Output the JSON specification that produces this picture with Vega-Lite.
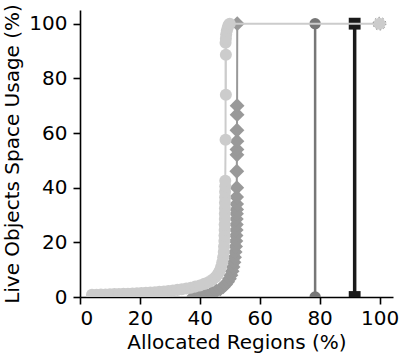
{
  "$schema": "https://vega.github.io/schema/vega-lite/v6.json",
  "width": 313,
  "height": 287,
  "autosize": {"type": "none"},
  "padding": {"left": 80, "top": 10, "right": 6, "bottom": 60},
  "config": {
    "view": {"stroke": null},
    "axis": {
      "grid": false,
      "domainColor": "#000000",
      "domainWidth": 1.6,
      "tickColor": "#000000",
      "tickWidth": 1.6,
      "tickSize": 7,
      "labelFont": "DejaVu Sans",
      "labelFontSize": 20,
      "labelColor": "#000000",
      "titleFont": "DejaVu Sans",
      "titleFontSize": 20,
      "titleFontWeight": "normal",
      "titleColor": "#000000"
    }
  },
  "datasets": {
    "light": [
      {"x": 4, "y": 0.8}, {"x": 5.5, "y": 0.85}, {"x": 7, "y": 0.9}, {"x": 8.5, "y": 0.95},
      {"x": 10, "y": 1.0}, {"x": 11.5, "y": 1.05}, {"x": 13, "y": 1.1}, {"x": 14.5, "y": 1.15},
      {"x": 16, "y": 1.2}, {"x": 17.5, "y": 1.3}, {"x": 19, "y": 1.35}, {"x": 20.5, "y": 1.45},
      {"x": 22, "y": 1.55}, {"x": 23.5, "y": 1.65}, {"x": 25, "y": 1.75}, {"x": 26.5, "y": 1.9},
      {"x": 28, "y": 2.0}, {"x": 29.5, "y": 2.2}, {"x": 31, "y": 2.4}, {"x": 32.5, "y": 2.6},
      {"x": 34, "y": 2.8}, {"x": 35.5, "y": 3.1}, {"x": 37, "y": 3.4}, {"x": 38.5, "y": 3.8},
      {"x": 40, "y": 4.2}, {"x": 41.5, "y": 4.8}, {"x": 43, "y": 5.5}, {"x": 44.2, "y": 6.3},
      {"x": 45.2, "y": 7.2}, {"x": 46, "y": 8.3}, {"x": 46.6, "y": 9.5}, {"x": 47.1, "y": 11},
      {"x": 47.5, "y": 12.7}, {"x": 47.8, "y": 14.5}, {"x": 48, "y": 16.5}, {"x": 48.1, "y": 18.5},
      {"x": 48.2, "y": 20.5}, {"x": 48.25, "y": 22.5}, {"x": 48.3, "y": 24.5}, {"x": 48.3, "y": 26.5},
      {"x": 48.35, "y": 28.5}, {"x": 48.35, "y": 30.5}, {"x": 48.4, "y": 32.5}, {"x": 48.4, "y": 34.5},
      {"x": 48.45, "y": 36.5}, {"x": 48.45, "y": 38.5}, {"x": 48.5, "y": 40.5}, {"x": 48.5, "y": 42.5},
      {"x": 48.6, "y": 57.5}, {"x": 48.7, "y": 74}, {"x": 48.7, "y": 88.6}, {"x": 48.6, "y": 93},
      {"x": 48.7, "y": 94.5}, {"x": 48.8, "y": 96}, {"x": 49, "y": 97.3}, {"x": 49.3, "y": 98.5},
      {"x": 49.6, "y": 99.5}, {"x": 50, "y": 100}, {"x": 100, "y": 100}
    ],
    "diamond": [
      {"x": 38, "y": 0.3}, {"x": 40, "y": 0.6}, {"x": 42, "y": 1.0}, {"x": 44, "y": 1.6},
      {"x": 45.5, "y": 2.2}, {"x": 46.8, "y": 2.9}, {"x": 47.8, "y": 3.7}, {"x": 48.6, "y": 4.6},
      {"x": 49.3, "y": 5.6}, {"x": 49.9, "y": 6.7}, {"x": 50.4, "y": 8}, {"x": 50.8, "y": 9.4},
      {"x": 51.1, "y": 11}, {"x": 51.4, "y": 12.7}, {"x": 51.6, "y": 14.5}, {"x": 51.8, "y": 16.5},
      {"x": 51.95, "y": 18.5}, {"x": 52.05, "y": 20.5}, {"x": 52.1, "y": 22.5}, {"x": 52.15, "y": 24.5},
      {"x": 52.2, "y": 26.5}, {"x": 52.2, "y": 28.5}, {"x": 52.25, "y": 30.5}, {"x": 52.3, "y": 32},
      {"x": 52.3, "y": 34}, {"x": 52.3, "y": 36.6}, {"x": 52.35, "y": 40}, {"x": 52.35, "y": 46},
      {"x": 52.4, "y": 52}, {"x": 52.4, "y": 54}, {"x": 52.4, "y": 57}, {"x": 52.4, "y": 61},
      {"x": 52.45, "y": 66.7}, {"x": 52.45, "y": 70}, {"x": 52.5, "y": 100}
    ],
    "circle": [{"x": 78.5, "y": 0}, {"x": 78.5, "y": 100}],
    "square": [{"x": 91.7, "y": 0}, {"x": 91.7, "y": 100}]
  },
  "encoding": {
    "x": {
      "field": "x", "type": "quantitative",
      "scale": {"domain": [0, 104.5], "nice": false, "zero": false},
      "axis": {"values": [0, 20, 40, 60, 80, 100], "title": "Allocated Regions (%)", "labelPadding": 4, "titlePadding": 4}
    },
    "y": {
      "field": "y", "type": "quantitative",
      "scale": {"domain": [0, 105], "nice": false, "zero": false},
      "axis": {"values": [0, 20, 40, 60, 80, 100], "title": "Live Objects Space Usage (%)", "labelPadding": 6, "titlePadding": 6}
    }
  },
  "layer": [
    {"data": {"name": "diamond"}, "mark": {"type": "line", "color": "#999999", "strokeWidth": 2, "clip": true}},
    {"data": {"name": "diamond"}, "mark": {"type": "point", "shape": "diamond", "filled": true, "color": "#999999", "size": 220, "opacity": 1, "clip": true}},
    {"data": {"name": "circle"}, "mark": {"type": "line", "color": "#777777", "strokeWidth": 2.5, "clip": true}},
    {"data": {"name": "circle"}, "mark": {"type": "point", "shape": "circle", "filled": true, "color": "#777777", "size": 130, "opacity": 1, "clip": true}},
    {"data": {"name": "square"}, "mark": {"type": "line", "color": "#1a1a1a", "strokeWidth": 3.5, "clip": true}},
    {"data": {"name": "square"}, "mark": {"type": "point", "shape": "square", "filled": true, "color": "#1a1a1a", "size": 140, "opacity": 1, "clip": true}},
    {"data": {"name": "light"}, "mark": {"type": "line", "color": "#cccccc", "strokeWidth": 2, "clip": true}},
    {"data": {"name": "light"}, "mark": {"type": "point", "shape": "circle", "filled": true, "color": "#cccccc", "size": 145, "opacity": 1, "clip": true}},
    {"data": {"name": "light"}, "transform": [{"filter": "datum.x == 100"}], "mark": {"type": "point", "shape": "circle", "filled": false, "stroke": "#888888", "strokeWidth": 1, "strokeDash": [1.5, 2.5], "size": 160, "opacity": 1, "clip": true}}
  ]
}
